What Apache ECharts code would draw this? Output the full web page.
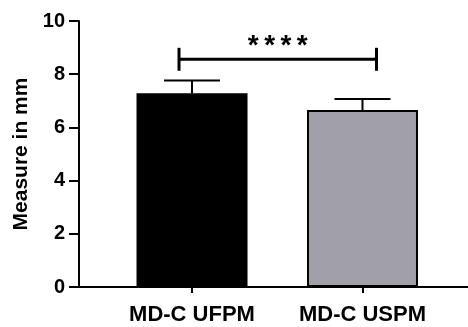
<!DOCTYPE html>
<html>
<head>
<meta charset="utf-8">
<script src="https://cdn.jsdelivr.net/npm/echarts@6/dist/echarts.min.js"></script>
<style>html,body{margin:0;padding:0;background:#fff}#c{width:468px;height:327px}</style>
</head>
<body>
<div id="c"></div>
<script>
var categories = ['MD-C UFPM', 'MD-C USPM'];
var means = [7.28, 6.65];
var errors = [0.48, 0.42];
var barColors = ['#000000', '#a1a0a8'];
var yTicks = [0, 2, 4, 6, 8, 10];
var sigLabel = '****';
var sigLevel = 8.56;

var FONT = 'Liberation Sans, Arial, sans-serif';
var chart = echarts.init(document.getElementById('c'));

var barData = categories.map(function (c, i) {
  return { value: [i, means[i]], itemStyle: { color: barColors[i] } };
});
var errData = categories.map(function (c, i) { return [i, means[i], errors[i]]; });

chart.setOption({
  animation: false,
  grid: { left: 79, right: 0, top: 21, bottom: 40, containLabel: false, outerBoundsMode: 'none' },
  xAxis: {
    type: 'value', min: -0.663, max: 1.619,
    splitLine: { show: false },
    axisLine: { show: true, onZero: false, lineStyle: { color: '#000', width: 2 } },
    axisTick: { show: true, customValues: [0, 1], length: 6, lineStyle: { color: '#000', width: 2 } },
    axisLabel: {
      customValues: [0, 1], margin: 17,
      formatter: function (v) { return categories[Math.round(v)]; },
      color: '#000', fontFamily: FONT, fontWeight: 'bold', fontSize: 22
    }
  },
  yAxis: {
    type: 'value', min: yTicks[0], max: yTicks[yTicks.length - 1], interval: 2,
    name: 'Measure in mm', nameLocation: 'middle', nameGap: 46, nameRotate: 90,
    nameTextStyle: { color: '#000', fontFamily: FONT, fontSize: 21, fontWeight: 'bold' },
    splitLine: { show: false },
    axisLine: { show: true, onZero: false, lineStyle: { color: '#000', width: 2 } },
    axisTick: { show: true, length: 10, lineStyle: { color: '#000', width: 2 } },
    axisLabel: { margin: 14, color: '#000', fontFamily: FONT, fontWeight: 'bold', fontSize: 20 }
  },
  series: [
    {
      type: 'custom', z: 1,
      data: errData,
      renderItem: function (params, api) {
        var x = api.value(0), m = api.value(1), e = api.value(2);
        var p0 = api.coord([x, m]);
        var p1 = api.coord([x, m + e]);
        var hw = 28;
        return {
          type: 'group',
          children: [
            { type: 'line', shape: { x1: p0[0], y1: p0[1], x2: p1[0], y2: p1[1] }, style: { stroke: '#000', lineWidth: 2 } },
            { type: 'line', shape: { x1: p1[0] - hw, y1: p1[1], x2: p1[0] + hw, y2: p1[1] }, style: { stroke: '#000', lineWidth: 2 } }
          ]
        };
      }
    },
    {
      type: 'bar', z: 2, barWidth: 111,
      data: barData,
      itemStyle: { borderColor: '#000', borderWidth: 2 }
    },
    {
      type: 'custom', z: 3,
      data: [[0, 1, sigLevel]],
      renderItem: function (params, api) {
        var a = api.coord([api.value(0), api.value(2)]);
        var b = api.coord([api.value(1), api.value(2)]);
        var x1 = a[0] - 13, x2 = b[0] + 14, y = a[1];
        var h = 11.5;
        var mid = (x1 + x2) / 2;
        var children = [
          { type: 'line', shape: { x1: x1, y1: y, x2: x2, y2: y }, style: { stroke: '#000', lineWidth: 3 } },
          { type: 'line', shape: { x1: x1, y1: y - h, x2: x1, y2: y + h }, style: { stroke: '#000', lineWidth: 3 } },
          { type: 'line', shape: { x1: x2, y1: y - h, x2: x2, y2: y + h }, style: { stroke: '#000', lineWidth: 3 } }
        ];
        var n = sigLabel.length, sp = 16.3;
        for (var i = 0; i < n; i++) {
          children.push({
            type: 'text',
            style: {
              x: mid + (i - (n - 1) / 2) * sp, y: y + 1,
              text: sigLabel[i], fill: '#000',
              font: 'bold 28px ' + FONT,
              align: 'center', verticalAlign: 'bottom'
            }
          });
        }
        return { type: 'group', children: children };
      }
    }
  ]
});
</script>
</body>
</html>
